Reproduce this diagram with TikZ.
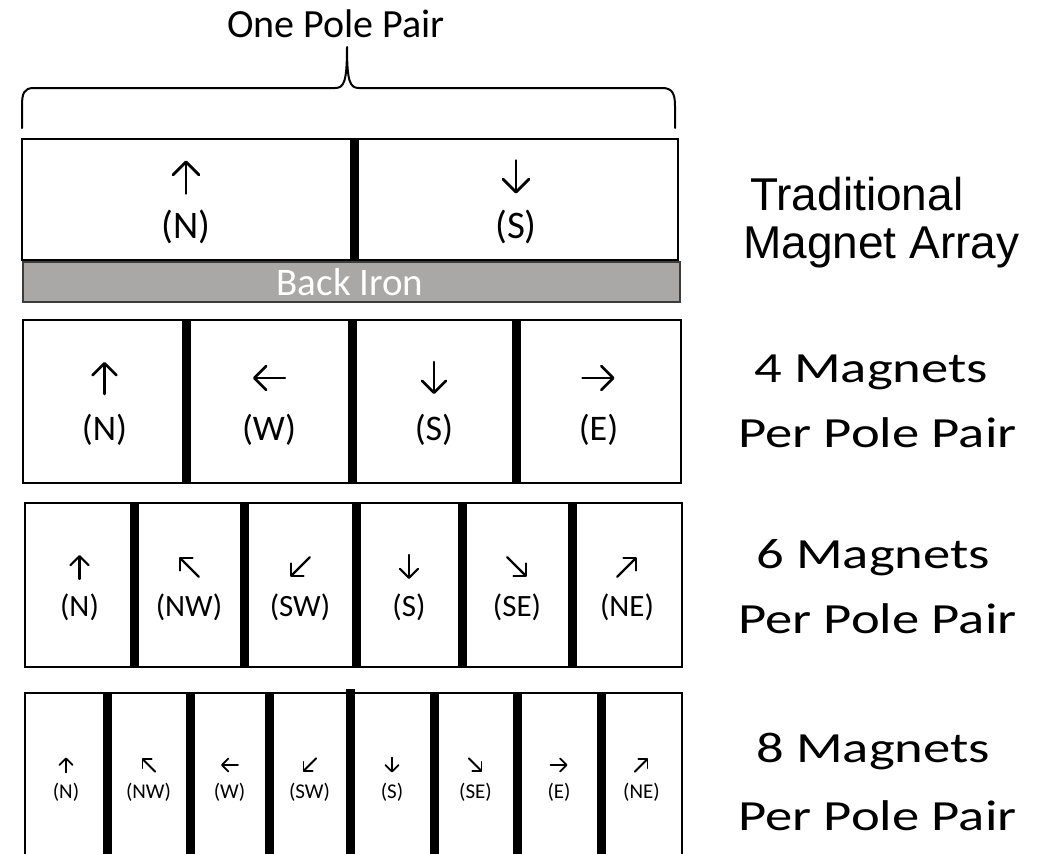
\documentclass[tikz,border=0pt]{standalone}
\usepackage{fontspec}
\setmainfont{Carlito}
\newfontfamily\arialfont{Liberation Sans}
\newfontfamily\widefont{Carlito}[FakeStretch=1.27]
\usetikzlibrary{arrows.meta,calc}

\tikzset{
  frame/.style={draw=black, line width=2pt},
  divider/.style={fill=black, draw=none},
  iron/.style={fill=irongray, draw=irondark, line width=2.4pt},
  lbl/.style={inner sep=0pt, anchor=center},
  sidelbl/.style={inner sep=0pt, anchor=base west},
}
\definecolor{irongray}{RGB}{170,168,166}
\definecolor{irondark}{RGB}{60,60,60}

% magnetisation arrow: centre, direction, length, head width, line width
\newcommand\magarrow[5]{%
  \pgfmathsetmacro\headlen{#4/2}%
  \draw[line width=#5pt, line cap=round,
        -{Straight Barb[length=\headlen pt, width=#4pt, line cap=round, line join=round]}]
    ($(#1)+(#2+180:#3/2)$) -- ($(#1)+(#2:#3/2)$);}

\begin{document}
\begin{tikzpicture}[x=1pt, y=1pt]
\useasboundingbox[fill=white] (0,0) rectangle (1042,-854);

% ---- pole-pair brace ----
\node[lbl] (title) at (336,-24) {\fontsize{40}{48}\selectfont One Pole Pair};
\coordinate (btip) at (347,-47);
\draw[line width=2pt, line cap=round, line join=round]
  (22,-128) -- (22,-106) .. controls (22,-93) and (24,-88) .. (34,-88)
  -- (335,-88) .. controls (344,-88) and (347,-82) .. (btip)
  .. controls (347,-82) and (350,-88) .. (359,-88)
  -- (662,-88) .. controls (672,-88) and (675,-93) .. (675,-106) -- (675,-128);

% ---- traditional array with back iron ----
\draw[iron] (23,-262) rectangle (680,-302);
\node[lbl, text=white] (iron) at (350,-282) {\fontsize{39}{47}\selectfont Back Iron};
\draw[frame] (22,-139) rectangle (678,-260);
\fill[divider] (349.5,-139) rectangle (358.5,-260);
\foreach \cx/\t/\a [count=\i] in {186/N/90, 516/S/270}{
  \coordinate (ra\i) at (\cx,-177);
  \magarrow{ra\i}{\a}{33}{26}{2.8}
  \node[lbl] (ta\i) at (\cx,-227) {\fontsize{39}{47}\selectfont (\t)};
}

% ---- four magnets ----
\draw[frame] (23,-320) rectangle (681,-483);
\foreach \dx in {186,352,516}{
  \fill[divider] (\dx-4.5,-320) rectangle (\dx+4.5,-483);
}
\foreach \cx/\t/\a [count=\i] in {104.5/N/90, 269/W/180, 434/S/270, 598.5/E/0}{
  \coordinate (rb\i) at (\cx,-378);
  \magarrow{rb\i}{\a}{32}{24}{2.6}
  \node[lbl] (tb\i) at (\cx,-430) {\fontsize{36}{43}\selectfont (\t)};
}

% ---- six magnets ----
\draw[frame] (25,-503) rectangle (682,-667);
\foreach \dx in {134,244,356,462,572}{
  \fill[divider] (\dx-4.5,-503) rectangle (\dx+4.5,-667);
}
\foreach \cx/\t/\a/\l [count=\i] in {79.5/N/90/24, 189/NW/135/28, 300/SW/225/28,
                                    409/S/270/24, 517/SE/315/28, 627/NE/45/28}{
  \coordinate (rc\i) at (\cx,-567);
  \magarrow{rc\i}{\a}{\l}{18}{2.2}
  \node[lbl] (tc\i) at (\cx,-607) {\fontsize{31}{37}\selectfont (\t)};
}

% ---- eight magnets ----
\draw[frame] (25,-860) -- (25,-693) -- (682,-693) -- (682,-860);
\foreach \dx in {107,190,269,350,434,517,601}{
  \fill[divider] (\dx-4.5,-693) rectangle (\dx+4.5,-860);
}
\fill[divider] (345.5,-689) rectangle (354.5,-693);
\foreach \cx/\t/\a/\l [count=\i] in {66/N/90/15, 148.5/NW/135/19, 229.5/W/180/17,
                                    309.5/SW/225/19, 392/S/270/15, 475.5/SE/315/19,
                                    559/E/0/17, 641.5/NE/45/19}{
  \coordinate (rd\i) at (\cx,-765);
  \magarrow{rd\i}{\a}{\l}{13}{1.8}
  \node[lbl] (td\i) at (\cx,-792) {\fontsize{21}{25}\selectfont (\t)};
}

% ---- row captions ----
\node[sidelbl] (capA1) at (750,-210) {\arialfont\fontsize{46}{52}\selectfont Traditional};
\node[sidelbl] (capA2) at (743,-258) {\arialfont\fontsize{46}{52}\selectfont Magnet Array};
\node[sidelbl] (capB1) at (754,-382) {\widefont\fontsize{43}{50}\selectfont 4 Magnets};
\node[sidelbl] (capB2) at (738,-447) {\widefont\fontsize{43}{50}\selectfont Per Pole Pair};
\node[sidelbl] (capC1) at (756,-568) {\widefont\fontsize{43}{50}\selectfont 6 Magnets};
\node[sidelbl] (capC2) at (738,-633) {\widefont\fontsize{43}{50}\selectfont Per Pole Pair};
\node[sidelbl] (capD1) at (756,-762) {\widefont\fontsize{43}{50}\selectfont 8 Magnets};
\node[sidelbl] (capD2) at (738,-830) {\widefont\fontsize{43}{50}\selectfont Per Pole Pair};
\end{tikzpicture}
\end{document}
